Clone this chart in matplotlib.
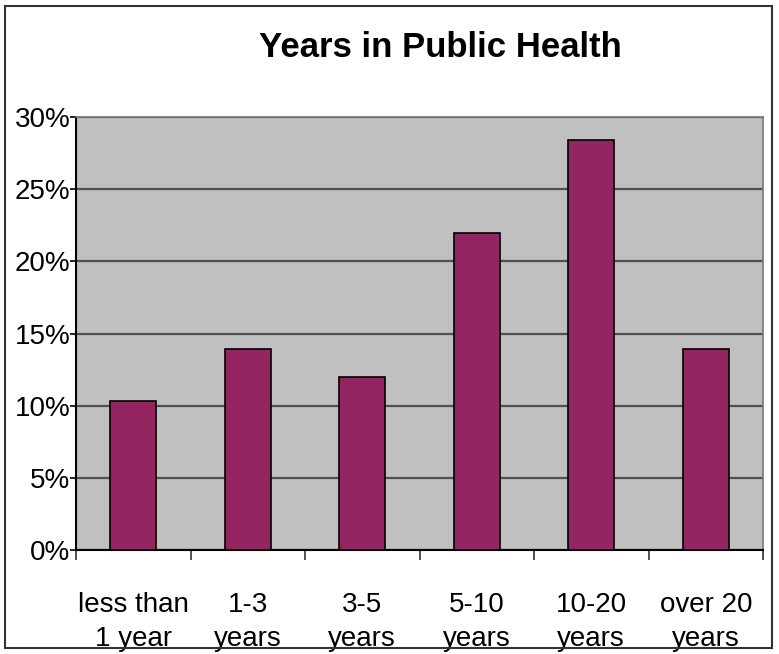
import matplotlib
matplotlib.use("Agg")
import matplotlib.pyplot as plt
from matplotlib.patches import Rectangle
from matplotlib.ticker import FuncFormatter
import numpy as np

plt.rcParams["font.family"] = ["Liberation Sans", "DejaVu Sans"]

categories = ["less than\n1 year", "1-3\nyears", "3-5\nyears",
              "5-10\nyears", "10-20\nyears", "over 20\nyears"]
shares = [0.103, 0.139, 0.120, 0.220, 0.284, 0.139]
y_ticks = [0.0, 0.05, 0.10, 0.15, 0.20, 0.25, 0.30]

fig = plt.figure(figsize=(7.79, 6.54), dpi=100)
ax = fig.add_axes([0.0976, 0.159, 0.882, 0.662])

x = np.arange(len(categories))
ax.set_facecolor("#c0c0c0")
ax.bar(x, shares, width=0.4, color="#932660", edgecolor="black",
       linewidth=1.2, zorder=3)

ax.set_xlim(-0.5, len(categories) - 0.5)
ax.set_ylim(0, 0.30)
ax.set_yticks(y_ticks)
ax.yaxis.set_major_formatter(FuncFormatter(lambda v, _: f"{v * 100:.0f}%"))
ax.grid(axis="y", color="#505050", lw=1.6, zorder=1)

# boundary ticks as major, labels on minor ticks at bar centres
ax.set_xticks(np.arange(len(categories) + 1) - 0.5)
ax.set_xticklabels([])
ax.set_xticks(x, minor=True)
ax.set_xticklabels(categories, minor=True, fontsize=20, linespacing=1.4)
ax.tick_params(axis="x", which="major", length=7, width=1.2, color="#333333")
ax.tick_params(axis="x", which="minor", length=0, pad=30)
ax.tick_params(axis="y", length=4, width=1.2, pad=0, labelsize=20)

for side in ("left", "bottom"):
    ax.spines[side].set_color("black")
    ax.spines[side].set_linewidth(1.5)
for side in ("top", "right"):
    ax.spines[side].set_color("#777777")
    ax.spines[side].set_linewidth(1.2)

fig.text(0.565, 0.928, "Years in Public Health", ha="center", va="center",
         fontsize=25, fontweight="bold")

# outer frame around the whole chart
fig.patches.append(Rectangle((0.0065, 0.009), 0.985, 0.982,
                             transform=fig.transFigure, fill=False,
                             edgecolor="#333333", lw=1.5))

fig.savefig("out.png", dpi=100)
